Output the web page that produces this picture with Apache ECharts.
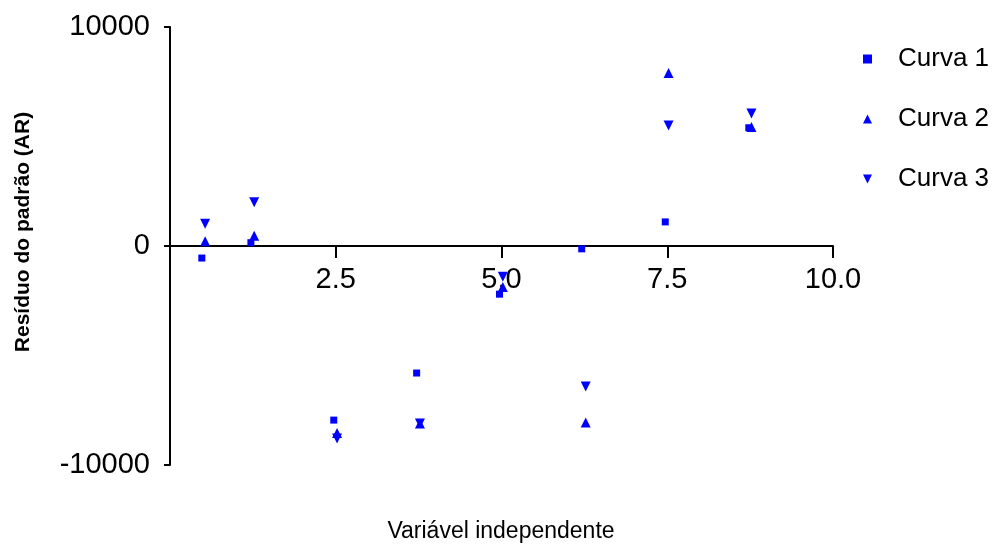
<!DOCTYPE html>
<html>
<head>
<meta charset="utf-8">
<script src="https://cdn.jsdelivr.net/npm/echarts@6/dist/echarts.min.js"></script>
<style>
  html, body { margin: 0; padding: 0; background: #fff; }
  #chart { width: 997px; height: 546px; }
</style>
</head>
<body>
<div id="chart"></div>
<script>
// Residuals of the standard per curve, by independent variable
const xCurva1 = [0.48, 1.22, 2.47, 3.72, 4.97, 6.21, 7.47, 8.73];
const curva1  = [-550, 150, -7950, -5800, -2200, -130, 1100, 5400];

const xCurva23 = [0.53, 1.27, 2.52, 3.77, 5.02, 6.27, 7.52, 8.77];
const curva2  = [220, 470, -8540, -8100, -1870, -8060, 7900, 5430];
const curva3  = [1020, 2000, -8790, -8100, -1400, -6420, 5500, 6050];

const seriesNames = ['Curva 1', 'Curva 2', 'Curva 3'];
const xTicks = [0, 2.5, 5.0, 7.5, 10.0];
const yTicks = [-10000, 0, 10000];

const FONT = '"Liberation Sans", Arial, sans-serif';
const BLUE = '#0000ff';
const DOWN_TRIANGLE = 'path://M0,0L10,0L5,10Z';

// The plot is split at y = 0 into an upper and a lower grid, so that the
// horizontal axis (line, ticks and labels) sits on the zero line.
const LEFT = 170, RIGHT = 164, TOP = 27, HALF = 219;
const X_TICK_PX = 12;

const pairs = (xs, ys, keep) =>
  xs.map((x, i) => [x, ys[i]]).filter(p => keep(p[1]));
const upper = v => v >= 0;
const lower = v => v < 0;

const axisStyle = { color: '#000', width: 2 };
const labelStyle = { fontSize: 29, fontFamily: FONT, color: '#000' };

const xBase = {
  type: 'value',
  min: xTicks[0],
  max: xTicks[xTicks.length - 1],
  interval: 2.5,
  splitLine: { show: false }
};

const yBase = {
  type: 'value',
  interval: 10000,
  axisLine: { show: true, onZero: false, lineStyle: axisStyle },
  axisTick: { show: true, length: 6, lineStyle: axisStyle },
  splitLine: { show: false }
};

const markers = [
  { symbol: 'rect', symbolSize: 7 },
  { symbol: 'triangle', symbolSize: 10 },
  { symbol: 'triangle', symbolSize: 10, symbolRotate: 180 }
];
const curves = [[xCurva1, curva1], [xCurva23, curva2], [xCurva23, curva3]];

const series = [];
curves.forEach(([xs, ys], k) => {
  [[0, upper], [1, lower]].forEach(([g, keep]) => {
    series.push(Object.assign({
      name: seriesNames[k],
      type: 'scatter',
      xAxisIndex: g,
      yAxisIndex: g,
      clip: false,
      z: 3,
      itemStyle: { color: BLUE, opacity: 1 },
      data: pairs(xs, ys, keep)
    }, markers[k]));
  });
});

// Downward tick marks under the zero line at each labelled x value
const tickDepth = (X_TICK_PX / HALF) * (yTicks[1] - yTicks[0]);
series.push({
  type: 'scatter',
  xAxisIndex: 1,
  yAxisIndex: 1,
  silent: true,
  z: 5,
  data: [],
  markLine: {
    silent: true,
    symbol: 'none',
    label: { show: false },
    lineStyle: { color: '#000', width: 2, type: 'solid' },
    emphasis: { disabled: true },
    data: xTicks.slice(1).map(x => [
      { coord: [x, 0] },
      { coord: [x, -tickDepth] }
    ])
  }
});

const chart = echarts.init(document.getElementById('chart'), null, { renderer: 'canvas' });

chart.setOption({
  animation: false,
  backgroundColor: '#ffffff',
  grid: [
    { left: LEFT, right: RIGHT, top: TOP, height: HALF },
    { left: LEFT, right: RIGHT, top: TOP + HALF, height: HALF }
  ],
  xAxis: [
    Object.assign({}, xBase, {
      gridIndex: 0,
      position: 'bottom',
      axisLine: { onZero: false, lineStyle: axisStyle },
      axisTick: { show: true, length: X_TICK_PX, lineStyle: axisStyle },
      axisLabel: Object.assign({
        margin: 19,
        formatter: v => (v === 0 ? '' : v.toFixed(1))
      }, labelStyle)
    }),
    Object.assign({}, xBase, { gridIndex: 1, show: false })
  ],
  yAxis: [
    Object.assign({}, yBase, {
      gridIndex: 0,
      min: yTicks[1],
      max: yTicks[2],
      axisLabel: Object.assign({ margin: 20, formatter: v => String(v) }, labelStyle)
    }),
    Object.assign({}, yBase, {
      gridIndex: 1,
      min: yTicks[0],
      max: yTicks[1],
      axisLabel: Object.assign({ margin: 20, formatter: v => (v === 0 ? '' : String(v)) }, labelStyle)
    })
  ],
  legend: {
    orient: 'vertical',
    left: 858,
    top: 41,
    itemWidth: 9,
    itemHeight: 9,
    itemGap: 34,
    data: [
      { name: seriesNames[0], icon: 'rect' },
      { name: seriesNames[1], icon: 'triangle' },
      { name: seriesNames[2], icon: DOWN_TRIANGLE }
    ],
    textStyle: { fontSize: 26, fontFamily: FONT, color: '#000', padding: [0, 0, 0, 21] }
  },
  graphic: [
    {
      type: 'text',
      x: 23,
      y: 232,
      rotation: Math.PI / 2,
      style: {
        text: 'Resíduo do padrão (AR)',
        font: 'bold 21px ' + FONT,
        fill: '#000',
        textAlign: 'center',
        textVerticalAlign: 'middle'
      }
    },
    {
      type: 'text',
      x: 501,
      y: 532,
      style: {
        text: 'Variável independente',
        font: '23px ' + FONT,
        fill: '#000',
        textAlign: 'center',
        textVerticalAlign: 'middle'
      }
    }
  ],
  series: series
});
</script>
</body>
</html>
